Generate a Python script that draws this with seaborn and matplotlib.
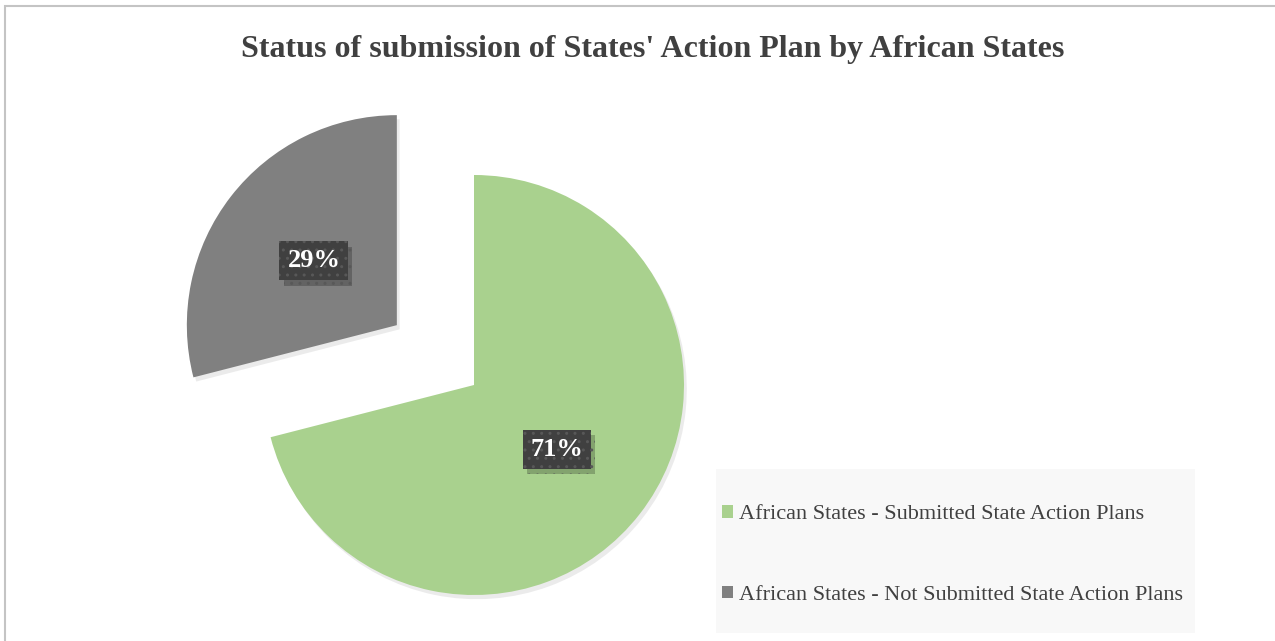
import matplotlib
matplotlib.use("Agg")
import matplotlib.pyplot as plt
import matplotlib.patches as mpatches
import matplotlib.patheffects as pe
import seaborn as sns

# Данные
labels = ["African States - Submitted State Action Plans",
          "African States - Not Submitted State Action Plans"]
shares = [71, 29]
colors = ["#A9D18E", "#808080"]
explode = [0, 0.465]

title = "Status of submission of States' Action Plan by African States"

sns.set_theme(style="white")
plt.rcParams['font.family'] = ['Liberation Serif', 'DejaVu Serif']

W, H = 1275, 641
fig = plt.figure(figsize=(W / 100, H / 100), dpi=100)
fig.patch.set_facecolor("white")

# рамка диаграммы (видны только верх и левая сторона)
border = mpatches.Rectangle((5 / W, -0.2), 1.2, 1.2 - 5.5 / H,
                            transform=fig.transFigure, fill=False,
                            edgecolor="#c4c4c4", lw=1.5, clip_on=False)
fig.patches.append(border)

# оси: 210 px на единицу радиуса, центр зелёного сектора в (474, 385)
R = 210.0
cx, cy = 474, 385
x0, x1 = 130, 820
y0, y1 = 80, 635
ax = fig.add_axes([x0 / W, 1 - y1 / H, (x1 - x0) / W, (y1 - y0) / H])

wedges, texts, autotexts = ax.pie(
    shares, colors=colors, explode=explode, startangle=90,
    counterclock=False, autopct='%1.0f%%', pctdistance=0.5,
    wedgeprops=dict(linewidth=0),
    textprops=dict(color="white", fontsize=19, fontweight="bold"))

for w in wedges:
    w.set_path_effects([pe.SimplePatchShadow(offset=(2, -3), shadow_rgbFace="#b0b0b0", alpha=0.25),
                        pe.Normal()])

for t in autotexts:
    t.set_bbox(dict(boxstyle="square,pad=0.3", facecolor="#404040",
                    edgecolor="#585858", linewidth=0, hatch=".."))
    t.get_bbox_patch().set_path_effects([
        pe.SimplePatchShadow(offset=(3, -4), shadow_rgbFace="black", alpha=0.22),
        pe.Normal()])

ax.set_aspect("auto")
ax.set_xlim((x0 - cx) / R, (x1 - cx) / R)
ax.set_ylim(-(y1 - cy) / R, (cy - y0) / R)
ax.axis("off")

fig.text(653 / W, 1 - 49 / H, title, ha="center", va="center",
         fontsize=23, fontweight="bold", color="#404040")

# фон легенды
legend_bg = mpatches.Rectangle((716 / W, 1 - 633 / H), (1195 - 716) / W, (633 - 469) / H,
                               transform=fig.transFigure, facecolor="#f8f8f8",
                               edgecolor="none", zorder=0)
fig.patches.append(legend_bg)

handles = [mpatches.Patch(facecolor=c, edgecolor="none") for c in colors]
fig.legend(handles, labels, loc="center left",
           bbox_to_anchor=(722 / W, 1 - 555 / H), frameon=False,
           fontsize=16, labelcolor="#404040", handlelength=0.5,
           handleheight=0.5, handletextpad=0.25, labelspacing=2.75,
           borderpad=0, borderaxespad=0)

plt.savefig("out.png", dpi=100)
